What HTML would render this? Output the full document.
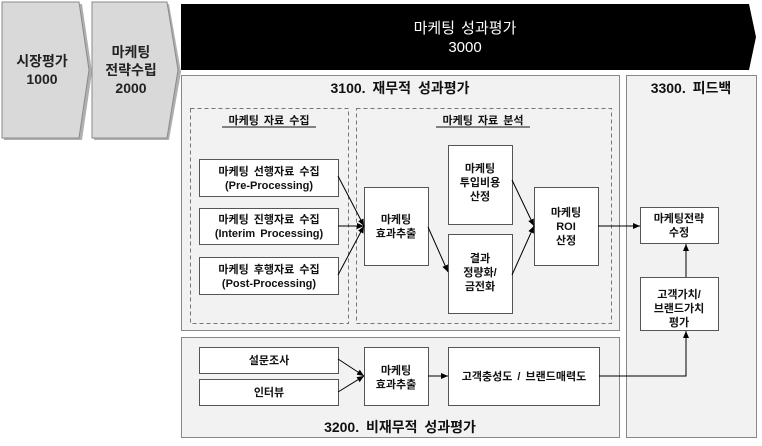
<!DOCTYPE html>
<html><head><meta charset="utf-8"><style>
html,body{margin:0;padding:0;background:#fff;}
svg{display:block;font-family:"Liberation Sans","Noto Sans CJK KR",sans-serif;}
.b{font-size:11px;font-weight:bold;fill:#111;word-spacing:2px;}
</style></head><body>
<svg width="762" height="446" viewBox="0 0 762 446" xmlns="http://www.w3.org/2000/svg">
<defs>
<marker id="a" markerWidth="8" markerHeight="8" refX="7" refY="4" orient="auto" markerUnits="userSpaceOnUse">
<path d="M0,1 L7,4 L0,7 z" fill="#000"/></marker>
</defs>
<path d="M4,4 L82,4 L92,72 L82,140 L4,140 z" fill="#b0b0b0"/>
<path d="M2,2 L79,2 L89,70 L79,138 L2,138 z" fill="#d9d9d9" stroke="#8a8a8a"/>
<path d="M94,4 L169,4 L181,72 L169,140 L94,140 z" fill="#b0b0b0"/>
<path d="M92,2 L167,2 L178,70 L167,138 L92,138 z" fill="#d9d9d9" stroke="#8a8a8a"/>
<text x="42" y="66" text-anchor="middle" font-size="14" font-weight="bold" fill="#222">시장평가</text>
<text x="42" y="84" text-anchor="middle" font-size="14" font-weight="bold" fill="#222">1000</text>
<text x="131" y="57" text-anchor="middle" font-size="14" font-weight="bold" fill="#222">마케팅</text>
<text x="131" y="75" text-anchor="middle" font-size="14" font-weight="bold" fill="#222">전략수립</text>
<text x="131" y="93" text-anchor="middle" font-size="14" font-weight="bold" fill="#222">2000</text>
<path d="M181,4 L749,4 L756,37 L749,70 L181,70 z" fill="#000"/>
<text x="465" y="33" text-anchor="middle" font-size="15" fill="#fff" word-spacing="2">마케팅 성과평가</text>
<text x="465" y="52" text-anchor="middle" font-size="15" fill="#fff">3000</text>
<rect x="181.5" y="75.5" width="438" height="255" fill="#f2f2f2" stroke="#888"/>
<rect x="181.5" y="337.5" width="438" height="100" fill="#f2f2f2" stroke="#888"/>
<rect x="626.5" y="75.5" width="130" height="362" fill="#f2f2f2" stroke="#888"/>
<text x="400" y="93" text-anchor="middle" font-size="14" font-weight="bold" fill="#111" word-spacing="3">3100. 재무적 성과평가</text>
<text x="691" y="93" text-anchor="middle" font-size="14" font-weight="bold" fill="#111" word-spacing="3">3300. 피드백</text>
<text x="400" y="432" text-anchor="middle" font-size="14" font-weight="bold" fill="#111" word-spacing="3">3200. 비재무적 성과평가</text>
<rect x="190.5" y="108.5" width="158" height="215" fill="none" stroke="#777" stroke-dasharray="4,3"/>
<rect x="356.5" y="108.5" width="255" height="215" fill="none" stroke="#777" stroke-dasharray="4,3"/>
<text x="269" y="124" text-anchor="middle" class="b">마케팅 자료 수집</text>
<line x1="222" y1="127" x2="316" y2="127" stroke="#111"/>
<text x="483" y="124" text-anchor="middle" class="b">마케팅 자료 분석</text>
<line x1="436" y1="127" x2="530" y2="127" stroke="#111"/>
<g fill="#fff" stroke="#555">
<rect x="199.5" y="159.5" width="139" height="37"/>
<rect x="199.5" y="208.5" width="139" height="36"/>
<rect x="199.5" y="257.5" width="139" height="37"/>
<rect x="364.5" y="187.5" width="64" height="78"/>
<rect x="448.5" y="145.5" width="64" height="79"/>
<rect x="448.5" y="234.5" width="64" height="79"/>
<rect x="534.5" y="187.5" width="64" height="78"/>
<rect x="199.5" y="347.5" width="139" height="26"/>
<rect x="199.5" y="379.5" width="139" height="26"/>
<rect x="364.5" y="347.5" width="64" height="58"/>
<rect x="448.5" y="347.5" width="151" height="58"/>
<rect x="640.5" y="207.5" width="78" height="36"/>
<rect x="640.5" y="277.5" width="78" height="53"/>
</g>
<g class="b" text-anchor="middle">
<text x="269" y="175">마케팅 선행자료 수집</text><text x="269" y="189">(Pre-Processing)</text>
<text x="269" y="223">마케팅 진행자료 수집</text><text x="269" y="237">(Interim Processing)</text>
<text x="269" y="273">마케팅 후행자료 수집</text><text x="269" y="287">(Post-Processing)</text>
<text x="396" y="223">마케팅</text><text x="396" y="237">효과추출</text>
<text x="480" y="172">마케팅</text><text x="480" y="186">투입비용</text><text x="480" y="200">산정</text>
<text x="480" y="262">결과</text><text x="480" y="276">정량화/</text><text x="480" y="290">금전화</text>
<text x="566" y="216">마케팅</text><text x="566" y="230">ROI</text><text x="566" y="244">산정</text>
<text x="269" y="364">설문조사</text>
<text x="269" y="396">인터뷰</text>
<text x="396" y="374">마케팅</text><text x="396" y="388">효과추출</text>
<text x="524" y="380">고객충성도 / 브랜드매력도</text>
<text x="679" y="222">마케팅전략</text><text x="679" y="236">수정</text>
<text x="679" y="298">고객가치/</text><text x="679" y="312">브랜드가치</text><text x="679" y="326">평가</text>
</g>
<g stroke="#000" stroke-width="1" fill="none" marker-end="url(#a)">
<line x1="338" y1="176" x2="364" y2="226"/>
<line x1="338" y1="226" x2="364" y2="226"/>
<line x1="338" y1="275" x2="364" y2="226"/>
<line x1="428" y1="227" x2="448" y2="272"/>
<line x1="512" y1="180" x2="534" y2="226"/>
<line x1="512" y1="275" x2="534" y2="226"/>
<line x1="598" y1="226" x2="640" y2="226"/>
<line x1="338" y1="359" x2="364" y2="376"/>
<line x1="338" y1="392" x2="364" y2="376"/>
<line x1="428" y1="376" x2="448" y2="376"/>
<polyline points="599,376 686,376 686,331"/>
<line x1="686" y1="277" x2="686" y2="244"/>
</g>
</svg>
</body></html>
